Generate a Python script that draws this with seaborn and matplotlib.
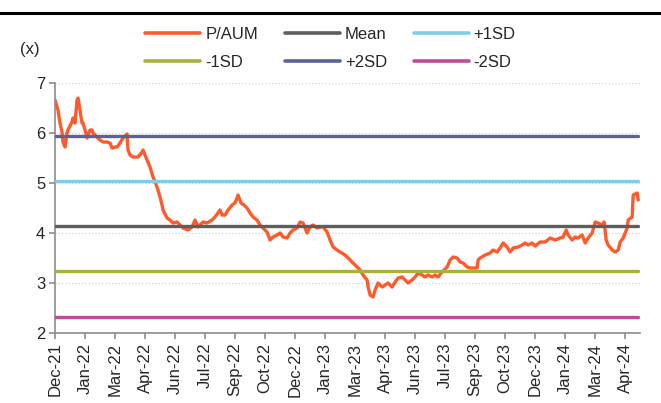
import matplotlib
matplotlib.use("Agg")
import pandas as pd
import matplotlib.pyplot as plt
import seaborn as sns
from matplotlib.lines import Line2D

# trading-day index and P/AUM multiple
days = [0, 3, 5, 7, 8, 10, 12, 13, 17, 18, 20, 22, 23, 25, 27, 28, 30, 32, 33, 35,
        37, 38, 42, 45, 48, 52, 55, 57, 60, 62, 65, 68, 72, 73, 75, 78, 83, 87, 88, 92,
        95, 98, 102, 105, 107, 108, 112, 115, 118, 122, 125, 128, 133, 137, 140, 143, 148, 152, 157, 160,
        165, 167, 170, 173, 177, 180, 183, 186, 189, 192, 195, 198, 202, 205, 208, 212, 215, 218, 222, 225,
        228, 232, 235, 238, 242, 245, 248, 252, 255, 258, 262, 265, 268, 272, 275, 278, 282, 285, 290, 295,
        300, 305, 308, 312, 313, 315, 318, 320, 323, 327, 330, 333, 337, 340, 343, 347, 350, 353, 357, 360,
        363, 367, 370, 373, 377, 380, 383, 386, 389, 392, 395, 398, 402, 405, 408, 412, 415, 418, 422, 423,
        425, 430, 435, 438, 442, 445, 448, 452, 455, 458, 463, 467, 470, 473, 477, 480, 485, 490, 495, 500,
        505, 508, 511, 513, 517, 520, 523, 527, 530, 533, 537, 540, 543, 547, 549, 551, 553, 557, 560, 563,
        565, 568, 572, 573, 577, 578, 582, 583]
p_aum = [6.66, 6.46, 6.20, 6.02, 5.82, 5.72, 6.00, 6.06, 6.22, 6.30, 6.20, 6.66, 6.70, 6.46, 6.20, 6.20, 6.06, 5.90, 5.96, 6.06,
         6.06, 6.00, 5.92, 5.86, 5.82, 5.82, 5.80, 5.70, 5.72, 5.72, 5.80, 5.90, 5.98, 5.66, 5.56, 5.52, 5.52, 5.62, 5.66, 5.46,
         5.32, 5.12, 4.92, 4.72, 4.56, 4.46, 4.30, 4.26, 4.20, 4.22, 4.16, 4.10, 4.06, 4.12, 4.26, 4.12, 4.22, 4.20, 4.26, 4.32,
         4.46, 4.36, 4.36, 4.46, 4.56, 4.60, 4.76, 4.60, 4.56, 4.50, 4.40, 4.32, 4.26, 4.16, 4.10, 4.02, 3.86, 3.92, 3.96, 4.00,
         3.92, 3.90, 4.00, 4.06, 4.10, 4.22, 4.20, 4.00, 4.12, 4.16, 4.10, 4.12, 4.12, 4.02, 3.86, 3.72, 3.66, 3.62, 3.56, 3.46,
         3.36, 3.26, 3.16, 3.06, 2.92, 2.76, 2.72, 2.86, 3.00, 2.92, 2.96, 3.00, 2.92, 3.02, 3.10, 3.12, 3.06, 3.00, 3.06, 3.12,
         3.20, 3.16, 3.12, 3.16, 3.12, 3.16, 3.12, 3.20, 3.26, 3.32, 3.46, 3.52, 3.50, 3.42, 3.40, 3.32, 3.30, 3.30, 3.30, 3.46,
         3.50, 3.56, 3.60, 3.66, 3.62, 3.70, 3.80, 3.72, 3.62, 3.70, 3.72, 3.76, 3.80, 3.76, 3.80, 3.74, 3.82, 3.82, 3.90, 3.86,
         3.90, 3.92, 4.06, 3.96, 3.86, 3.92, 3.90, 3.96, 3.80, 3.90, 4.00, 4.22, 4.20, 4.16, 4.22, 3.86, 3.76, 3.66, 3.62, 3.66,
         3.82, 3.90, 4.10, 4.26, 4.32, 4.76, 4.80, 4.66]

mean_val = 4.14
sd_val = 0.905

tick_labels = ["Dec-21", "Jan-22", "Mar-22", "Apr-22", "Jun-22", "Jul-22", "Sep-22", "Oct-22",
               "Dec-22", "Jan-23", "Mar-23", "Apr-23", "Jun-23", "Jul-23", "Sep-23", "Oct-23",
               "Dec-23", "Jan-24", "Mar-24", "Apr-24"]
tick_step = 30

colors = {
    "P/AUM": "#FF5A2C",
    "Mean": "#5E5E5E",
    "+1SD": "#7ECFE6",
    "-1SD": "#A9B03B",
    "+2SD": "#5A6393",
    "-2SD": "#C04A98",
}

df = pd.DataFrame({"day": days, "P/AUM": p_aum})
bands = pd.DataFrame({"day": [days[0], days[-1]]})
bands["Mean"] = mean_val
bands["+1SD"] = mean_val + sd_val
bands["-1SD"] = mean_val - sd_val
bands["+2SD"] = mean_val + 2 * sd_val
bands["-2SD"] = mean_val - 2 * sd_val
bands_long = bands.melt(id_vars="day", var_name="series", value_name="value")

sns.set_style("white")
plt.rcParams["font.family"] = ["Liberation Sans", "DejaVu Sans"]
plt.rcParams["font.size"] = 12

fig = plt.figure(figsize=(6.61, 4.03), dpi=100)
ax = fig.add_axes([0.0832, 0.1737, 0.8853, 0.6203])

sns.lineplot(data=df, x="day", y="P/AUM", color=colors["P/AUM"], linewidth=2.4,
             ax=ax, zorder=2)
sns.lineplot(data=bands_long, x="day", y="value", hue="series", palette=colors,
             linewidth=2.4, ax=ax, legend=False, zorder=3, solid_capstyle="round")

ax.set_xlim(0, days[-1] + 2)
ax.set_ylim(2, 7)
ax.set_yticks(range(2, 8))
ax.set_xticks([i * tick_step for i in range(len(tick_labels))])
ax.set_xticklabels(tick_labels, rotation=90)
ax.set_xlabel("")
ax.set_ylabel("")

ax.yaxis.grid(True, linestyle=(0, (1, 2)), color="#cfcfcf", linewidth=0.8)
ax.set_axisbelow(True)
for s in ["top", "right"]:
    ax.spines[s].set_visible(False)
for s in ["left", "bottom"]:
    ax.spines[s].set_color("#8c8c8c")
    ax.spines[s].set_linewidth(1.2)
ax.tick_params(axis="both", direction="out", length=4, width=1.2, color="#8c8c8c",
               labelsize=12, pad=3, bottom=True, left=True)

# legend: row-major order over 3 columns
order = ["P/AUM", "-1SD", "Mean", "+2SD", "+1SD", "-2SD"]
handles = [Line2D([0], [0], color=colors[k], linewidth=2.6, solid_capstyle="round") for k in order]
fig.legend(handles, order, loc="center", bbox_to_anchor=(0.5, 0.88), ncol=3, frameon=False,
           fontsize=12, handlelength=3.3, handletextpad=0.3, columnspacing=1.6,
           labelspacing=0.75)

fig.text(0.045, 0.876, "(x)", ha="center", va="center", fontsize=12)
fig.add_artist(Line2D([0, 1], [0.968, 0.968], transform=fig.transFigure, color="black", linewidth=2.2))

fig.savefig("out.png", dpi=100)
